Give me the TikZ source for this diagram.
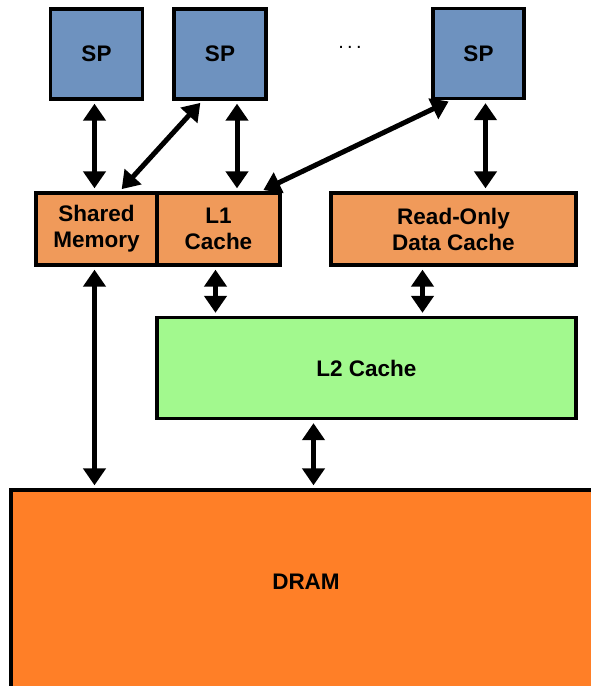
\documentclass[tikz,border=0pt]{standalone}
\usepackage{fontspec}
\setmainfont{Liberation Sans}
\usetikzlibrary{arrows.meta}

\definecolor{spblue}{HTML}{6E92BF}
\definecolor{cacheorange}{HTML}{F09A5A}
\definecolor{ltwogreen}{HTML}{A2F98E}
\definecolor{dramorange}{HTML}{FF7F27}

\begin{document}
\begin{tikzpicture}[x=1pt, y=-1pt,
    unit/.style={draw=black, line width=3.3pt, inner sep=0pt, align=center,
                 font=\fontsize{22.5}{26}\selectfont\bfseries},
    spbox/.style={unit, fill=spblue, minimum width=92pt, minimum height=90pt},
    cachebox/.style={unit, fill=cacheorange, minimum height=72pt},
    dblarrow/.style={line width=5pt, {Triangle[width=22pt,length=17pt]}-{Triangle[width=22pt,length=17pt]},
                     shorten <=3pt, shorten >=3pt}]
\useasboundingbox (0,0) rectangle (590,686);
\fill[white] (-10,-10) rectangle (600,696);

\node[spbox] (spa) at (96.5,54) {SP};
\node[spbox] (spb) at (220,54) {SP};
\node[spbox, minimum width=91pt] (spc) at (478.5,53.5) {SP};
\node[font=\fontsize{20}{24}\selectfont] (dots) at (350,47) {.\,.\,.};

\node[cachebox, minimum width=121pt] (shm) at (96.5,229) {Shared\\Memory};
\node[cachebox, minimum width=123pt] (lone) at (218.5,229) {L1\\Cache};
\node[cachebox, minimum width=245pt] (rocache) at (453.5,229) {Read-Only\\Data Cache};

\node[unit, fill=dramorange, minimum width=620pt, minimum height=240pt] (dram) at (321,610) {};
\node[font=\fontsize{22.5}{26}\selectfont\bfseries] (dramtext) at (306,582) {DRAM};
\node[unit, fill=ltwogreen, minimum width=419pt, minimum height=101pt] (ltwo) at (366.5,368) {L2 Cache};

\draw[dblarrow] ([xshift=-2pt]spa.south) -- ([xshift=-2pt]spa.south |- shm.north);
\draw[dblarrow] ([xshift=30pt]spb.south west) -- ([xshift=-39pt]shm.north east);
\draw[dblarrow] ([xshift=17pt]spb.south) -- ([xshift=17pt]spb.south |- lone.north);
\draw[dblarrow] ([xshift=20pt]spc.south west) -- ([xshift=-21pt]lone.north east);
\draw[dblarrow] ([xshift=7pt]spc.south) -- ([xshift=7pt]spc.south |- rocache.north);

\draw[dblarrow] ([xshift=-2pt]shm.south) -- ([xshift=-2pt]shm.south |- dram.north);
\draw[dblarrow] ([xshift=-3pt]lone.south) -- ([xshift=-3pt]lone.south |- ltwo.north);
\draw[dblarrow] ([xshift=-31pt]rocache.south) -- ([xshift=-31pt]rocache.south |- ltwo.north);
\draw[dblarrow] ([xshift=-53pt]ltwo.south) -- ([xshift=-53pt]ltwo.south |- dram.north);
\end{tikzpicture}
\end{document}
